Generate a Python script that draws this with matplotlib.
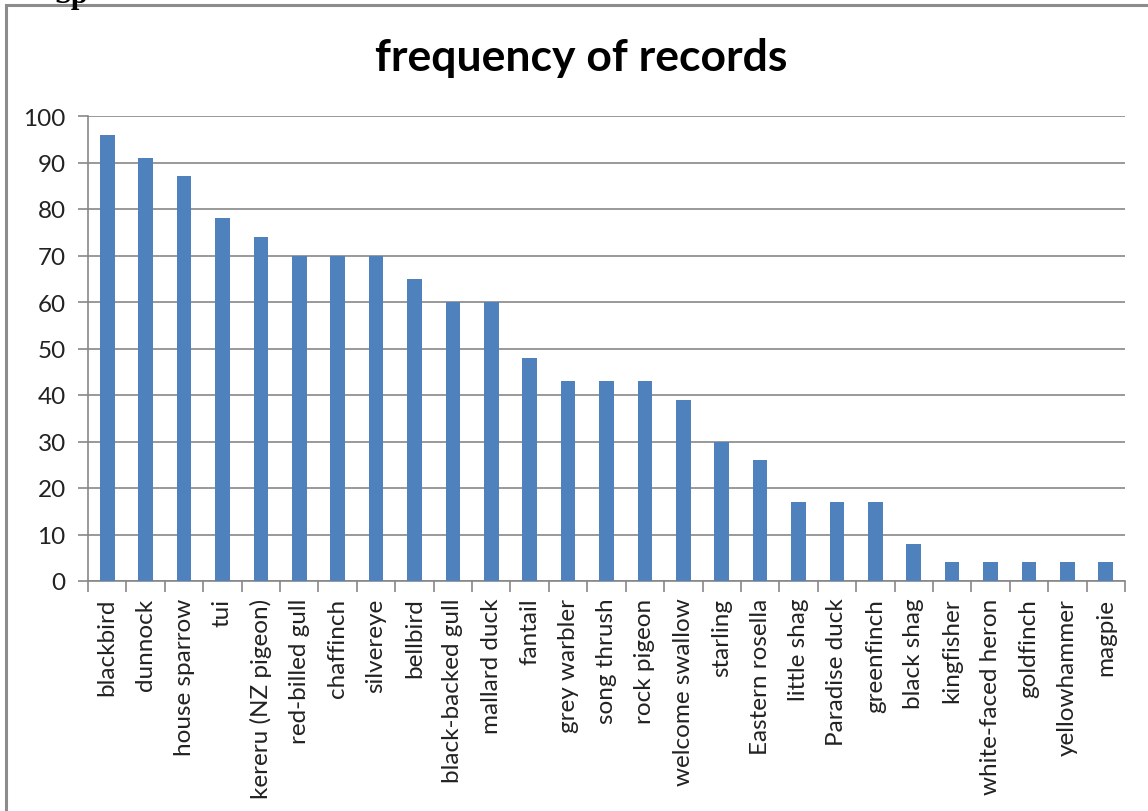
import matplotlib
matplotlib.use("Agg")
import matplotlib.pyplot as plt
from matplotlib.patches import Rectangle
import numpy as np

species = [
    "blackbird", "dunnock", "house sparrow", "tui", "kereru (NZ pigeon)",
    "red-billed gull", "chaffinch", "silvereye", "bellbird", "black-backed gull",
    "mallard duck", "fantail", "grey warbler", "song thrush", "rock pigeon",
    "welcome swallow", "starling", "Eastern rosella", "little shag", "Paradise duck",
    "greenfinch", "black shag", "kingfisher", "white-faced heron", "goldfinch",
    "yellowhammer", "magpie",
]
records = [96, 91, 87, 78, 74, 70, 70, 70, 65, 60, 60, 48, 43, 43, 43, 39, 30, 26,
           17, 17, 17, 8, 4, 4, 4, 4, 4]
y_ticks = [0, 10, 20, 30, 40, 50, 60, 70, 80, 90, 100]

W, H = 1148, 812
fig = plt.figure(figsize=(W / 100, H / 100), dpi=100)
fig.patch.set_facecolor("white")

font = ["Lato", "DejaVu Sans"]
grid_col = "#878787"
bar_col = "#4F81BD"

# chart frame
fig.patches.append(Rectangle((6 / W, -0.1), 1.2, 1 - 6 / H + 0.1,
                             transform=fig.transFigure, fill=False,
                             edgecolor="#8c8c8c", linewidth=2.2, zorder=0))
fig.text(54 / W, 1 + 19 / H, "Sp", family=["Liberation Serif"], fontsize=22,
         fontweight="bold", ha="left", va="top")

ax = fig.add_axes([88 / W, 1 - 582 / H, (1125 - 88) / W, (582 - 117) / H])
x = np.arange(len(species))
ax.bar(x, records, width=0.38, color=bar_col, edgecolor="none", zorder=3)

ax.set_xlim(-0.5, len(species) - 0.5)
ax.set_ylim(0, 100)
ax.set_yticks(y_ticks)
ax.set_yticklabels([str(v) for v in y_ticks], family=font, fontsize=17.5, color="#222222")
ax.yaxis.grid(True, color=grid_col, linewidth=1.2, zorder=0)
ax.tick_params(axis="y", length=7, width=1.2, color=grid_col, pad=9)

ax.set_xticks(x)
ax.set_xticklabels(species, rotation=90, family=font, fontsize=17.5, color="#222222")
ax.set_xticks(np.arange(-0.5, len(species), 1.0), minor=True)
ax.tick_params(axis="x", which="major", length=0, pad=12)
ax.tick_params(axis="x", which="minor", length=8, width=1.2, color=grid_col)

for side in ("top", "right"):
    ax.spines[side].set_visible(False)
for side in ("left", "bottom"):
    ax.spines[side].set_color(grid_col)
    ax.spines[side].set_linewidth(1.2)

fig.text(581 / W, 1 - 58 / H, "frequency of records", family=font, fontsize=32,
         fontweight="bold", ha="center", va="center", color="black")

fig.savefig("out.png", dpi=100, facecolor="white")
